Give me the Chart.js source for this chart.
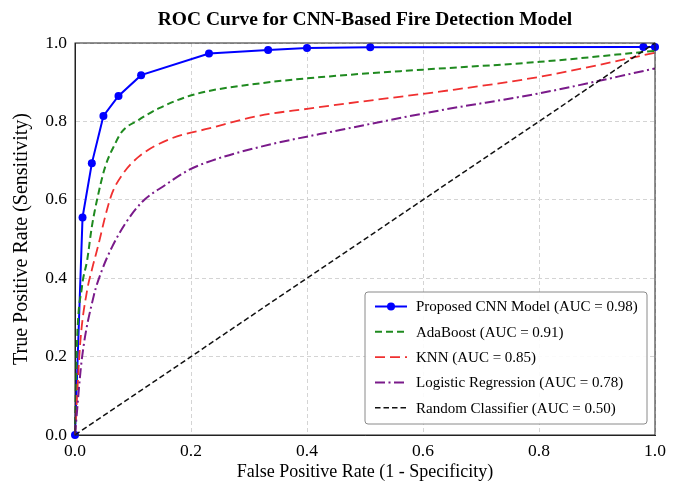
<!DOCTYPE html>
<html>
<head>
<meta charset="utf-8">
<script src="https://cdn.jsdelivr.net/npm/chart.js@4.4.1/dist/chart.umd.min.js"></script>
<style>
body { margin: 0; background: #fff; }
</style>
</head>
<body>
<canvas id="roc" width="677" height="488"></canvas>
<script>
// values
const cnnFpr = [0, 0.013, 0.029, 0.049, 0.075, 0.114, 0.231, 0.333, 0.400, 0.509, 0.980, 1.0];
const cnnTpr = [0, 0.555, 0.693, 0.814, 0.865, 0.918, 0.973, 0.982, 0.987, 0.989, 0.990, 0.990];

const adaFpr = [0, 0.003, 0.012, 0.021, 0.029, 0.038, 0.052, 0.0695, 0.081, 0.110, 0.144, 0.204, 0.319, 0.457, 0.600, 0.802, 1.0];
const adaTpr = [0, 0.217, 0.378, 0.446, 0.531, 0.600, 0.684, 0.744, 0.774, 0.804, 0.833, 0.868, 0.897, 0.917, 0.932, 0.952, 0.980];

const knnFpr = [0, 0.009, 0.021, 0.029, 0.041, 0.052, 0.064, 0.081, 0.110, 0.167, 0.231, 0.319, 0.400, 0.491, 0.629, 0.802, 1.0];
const knnTpr = [0, 0.234, 0.370, 0.421, 0.489, 0.557, 0.617, 0.663, 0.710, 0.757, 0.782, 0.815, 0.832, 0.850, 0.876, 0.914, 0.975];

const lrFpr = [0, 0.0115, 0.032, 0.0466, 0.064, 0.087, 0.116, 0.156, 0.196, 0.236, 0.319, 0.457, 0.629, 0.802, 1.0];
const lrTpr = [0, 0.190, 0.353, 0.421, 0.480, 0.540, 0.595, 0.638, 0.676, 0.700, 0.735, 0.778, 0.828, 0.872, 0.935];

const randFpr = [0, 1];
const randTpr = [0, 1];

const seriesLabels = [
  'Proposed CNN Model (AUC = 0.98)',
  'AdaBoost (AUC = 0.91)',
  'KNN (AUC = 0.85)',
  'Logistic Regression (AUC = 0.78)',
  'Random Classifier (AUC = 0.50)'
];

const axisTicks = [0, 0.2, 0.4, 0.6, 0.8, 1.0];

const chartTitle = 'ROC Curve for CNN-Based Fire Detection Model';
const SERIF = '"Liberation Serif", "DejaVu Serif", serif';

function toPoints (xs, ys)
{
  return xs.map((x, i) => ({ x: x, y: ys[i] }));
}

const styles = [
  { color: '#0000ff', width: 2,   dash: [],                marker: true  },
  { color: '#1f8a1f', width: 2,   dash: [7, 4],            marker: false },
  { color: '#f03030', width: 1.8, dash: [10, 5],           marker: false },
  { color: '#7a1a8a', width: 2,   dash: [10, 3.5, 2, 3.5], marker: false },
  { color: '#111111', width: 1.5, dash: [5.5, 3],          marker: false }
];

const allData = [
  toPoints(cnnFpr, cnnTpr),
  toPoints(adaFpr, adaTpr),
  toPoints(knnFpr, knnTpr),
  toPoints(lrFpr, lrTpr),
  toPoints(randFpr, randTpr)
];

const datasets = allData.map((pts, n) => ({
  label: seriesLabels[n],
  data: pts,
  showLine: true,
  borderColor: styles[n].color,
  backgroundColor: styles[n].color,
  borderWidth: styles[n].width,
  borderDash: styles[n].dash,
  pointRadius: styles[n].marker ? 4 : 0,
  pointBorderWidth: 0,
  pointBackgroundColor: styles[n].color,
  tension: n === 0 ? 0 : 0.4,
  cubicInterpolationMode: n === 0 ? 'default' : 'monotone',
  clip: false,
  order: 5 - n
}));

// title centred over the plot, frame, and legend inside the plot area
const decorations = {
  id: 'decorations',
  afterDraw (chart)
  {
    const ctx = chart.ctx, area = chart.chartArea;
    ctx.save();

    ctx.fillStyle = '#000';
    ctx.font = 'bold 19.5px ' + SERIF;
    ctx.textAlign = 'center';
    ctx.textBaseline = 'alphabetic';
    ctx.fillText(chartTitle, (area.left + area.right) / 2, 25);

    ctx.setLineDash([]);
    ctx.strokeStyle = '#222';
    ctx.lineWidth = 1;
    ctx.strokeRect(area.left, area.top, area.width, area.height);

    const w = 282, h = 132;
    const bx = area.right - 8 - w, by = area.bottom - 11 - h;
    ctx.fillStyle = 'rgba(255,255,255,0.9)';
    ctx.strokeStyle = '#8a8a8a';
    ctx.beginPath();
    ctx.roundRect(bx, by, w, h, 3);
    ctx.fill();
    ctx.stroke();

    ctx.font = '15px ' + SERIF;
    ctx.textAlign = 'left';
    ctx.textBaseline = 'middle';
    for (let n = 0; n < seriesLabels.length; n++)
    {
      const ry = by + 14.5 + n * 25.3;
      const st = styles[n];
      ctx.strokeStyle = st.color;
      ctx.lineWidth = st.width;
      ctx.setLineDash(st.dash);
      ctx.beginPath();
      ctx.moveTo(bx + 10, ry);
      ctx.lineTo(bx + 42, ry);
      ctx.stroke();
      if (st.marker)
      {
        ctx.fillStyle = st.color;
        ctx.beginPath();
        ctx.arc(bx + 26, ry, 4, 0, Math.PI * 2);
        ctx.fill();
      }
      ctx.setLineDash([]);
      ctx.fillStyle = '#000';
      ctx.fillText(seriesLabels[n], bx + 51, ry + 1);
    }
    ctx.restore();
  }
};

new Chart(document.getElementById('roc'), {
  type: 'scatter',
  data: { datasets: datasets },
  plugins: [decorations],
  options: {
    responsive: false,
    animation: false,
    layout: { padding: { left: 0, right: 22, top: 43, bottom: 0 } },
    plugins: {
      legend: { display: false },
      tooltip: { enabled: false },
      title: { display: false }
    },
    scales: {
      x: {
        type: 'linear',
        min: 0, max: 1,
        afterBuildTicks: s => { s.ticks = axisTicks.map(v => ({ value: v })); },
        afterFit: s => { s.height = 53; },
        ticks: {
          color: '#000',
          padding: 6,
          font: { family: SERIF, size: 17.5 },
          callback: v => v.toFixed(1)
        },
        grid: { color: '#d4d4d4', drawTicks: false },
        border: { color: '#222', dash: [4, 3] },
        title: {
          display: true,
          text: 'False Positive Rate (1 - Specificity)',
          color: '#000',
          font: { family: SERIF, size: 18 },
          padding: { top: 0, bottom: 5 }
        }
      },
      y: {
        type: 'linear',
        min: 0, max: 1,
        afterBuildTicks: s => { s.ticks = axisTicks.map(v => ({ value: v })); },
        afterFit: s => { s.width = 75; },
        ticks: {
          color: '#000',
          padding: 8,
          font: { family: SERIF, size: 17.5 },
          callback: v => v.toFixed(1)
        },
        grid: { color: '#d4d4d4', drawTicks: false },
        border: { color: '#222', dash: [4, 3] },
        title: {
          display: true,
          text: 'True Positive Rate (Sensitivity)',
          color: '#000',
          font: { family: SERIF, size: 20 },
          padding: { top: 10, bottom: 0 }
        }
      }
    }
  }
});
</script>
</body>
</html>
